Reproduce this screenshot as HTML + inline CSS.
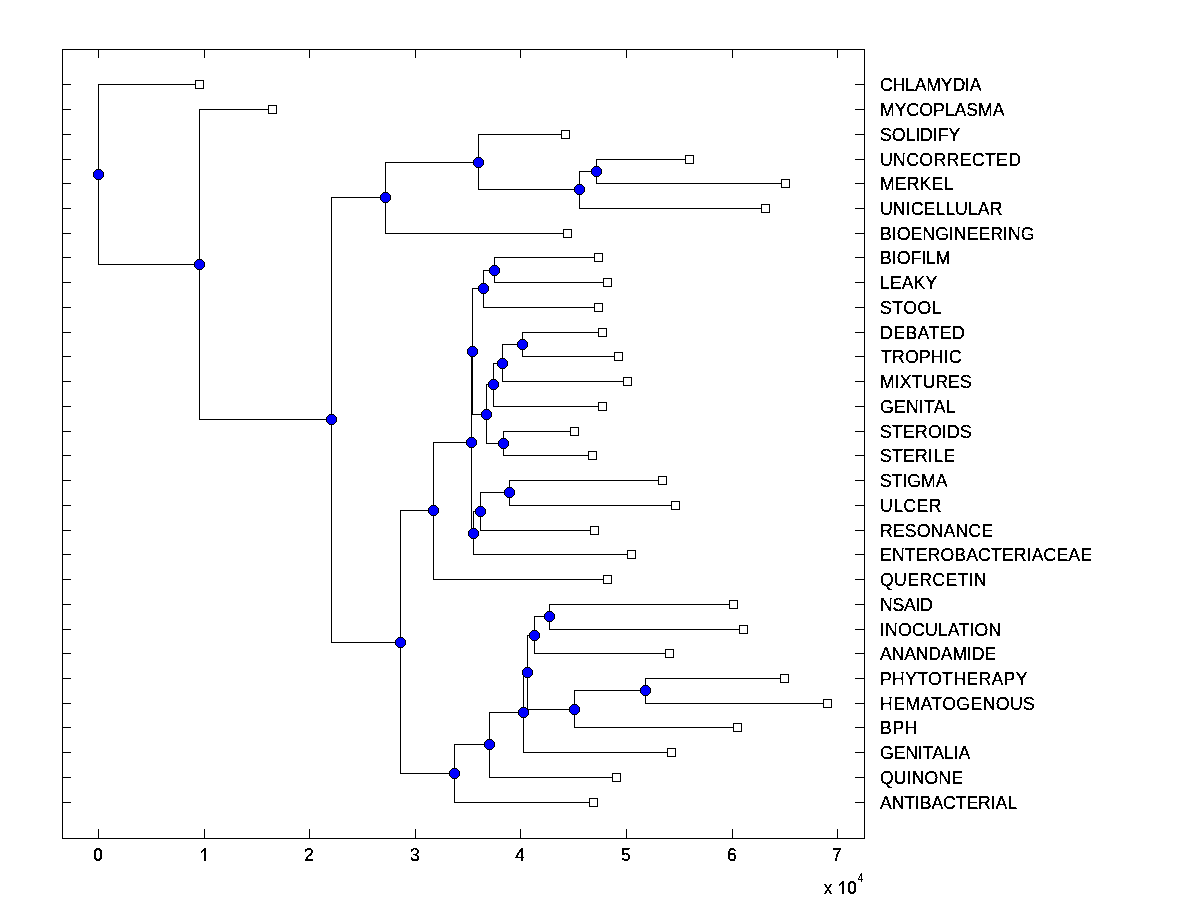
<!DOCTYPE html>
<html><head><meta charset="utf-8"><style>
html,body{margin:0;padding:0;background:#fff;}
svg{display:block;}
text{stroke:#000;stroke-width:0.25px;font-family:"Liberation Sans",sans-serif;font-size:17.7px;fill:#000;}
</style></head><body>
<svg width="1200" height="900" viewBox="0 0 1200 900">
<rect x="0" y="0" width="1200" height="900" fill="#fff"/>
<rect x="62.5" y="49.5" width="802" height="789" fill="none" stroke="#000" stroke-width="1" shape-rendering="crispEdges"/>
<path d="M98.5 838V829M98.5 50V58M204.5 838V829M204.5 50V58M309.5 838V829M309.5 50V58M415.5 838V829M415.5 50V58M520.5 838V829M520.5 50V58M626.5 838V829M626.5 50V58M732.5 838V829M732.5 50V58M837.5 838V829M837.5 50V58M63 84.5H71M864 84.5H855M63 109.5H71M864 109.5H855M63 134.5H71M864 134.5H855M63 159.5H71M864 159.5H855M63 183.5H71M864 183.5H855M63 208.5H71M864 208.5H855M63 233.5H71M864 233.5H855M63 257.5H71M864 257.5H855M63 282.5H71M864 282.5H855M63 307.5H71M864 307.5H855M63 332.5H71M864 332.5H855M63 356.5H71M864 356.5H855M63 381.5H71M864 381.5H855M63 406.5H71M864 406.5H855M63 431.5H71M864 431.5H855M63 455.5H71M864 455.5H855M63 480.5H71M864 480.5H855M63 505.5H71M864 505.5H855M63 530.5H71M864 530.5H855M63 554.5H71M864 554.5H855M63 579.5H71M864 579.5H855M63 604.5H71M864 604.5H855M63 629.5H71M864 629.5H855M63 653.5H71M864 653.5H855M63 678.5H71M864 678.5H855M63 703.5H71M864 703.5H855M63 727.5H71M864 727.5H855M63 752.5H71M864 752.5H855M63 777.5H71M864 777.5H855M63 802.5H71M864 802.5H855" stroke="#000" stroke-width="1" fill="none" shape-rendering="crispEdges"/>
<path d="M98.5 84.5V264.5M98.5 84.5H199.5M98.5 264.5H199.5M199.5 109.5V419.5M199.5 109.5H272.5M199.5 419.5H331.5M331.5 197.5V642.5M331.5 197.5H385.5M331.5 642.5H400.5M385.5 162.5V233.5M385.5 162.5H478.5M385.5 233.5H567.5M478.5 134.5V189.5M478.5 134.5H565.5M478.5 189.5H579.5M579.5 171.5V208.5M579.5 171.5H596.5M579.5 208.5H765.5M596.5 159.5V183.5M596.5 159.5H689.5M596.5 183.5H785.5M400.5 510.5V773.5M400.5 510.5H433.5M400.5 773.5H454.5M433.5 442.5V579.5M433.5 442.5H471.5M433.5 579.5H607.5M471.5 351.5V533.5M471.5 351.5H472.5M471.5 533.5H473.5M472.5 288.5V414.5M472.5 288.5H483.5M472.5 414.5H486.5M483.5 270.5V307.5M483.5 270.5H494.5M483.5 307.5H598.5M494.5 257.5V282.5M494.5 257.5H598.5M494.5 282.5H607.5M486.5 384.5V443.5M486.5 384.5H493.5M486.5 443.5H503.5M493.5 363.5V406.5M493.5 363.5H502.5M493.5 406.5H602.5M502.5 344.5V381.5M502.5 344.5H522.5M502.5 381.5H627.5M522.5 332.5V356.5M522.5 332.5H602.5M522.5 356.5H618.5M503.5 431.5V455.5M503.5 431.5H574.5M503.5 455.5H592.5M473.5 511.5V554.5M473.5 511.5H480.5M473.5 554.5H631.5M480.5 492.5V530.5M480.5 492.5H509.5M480.5 530.5H594.5M509.5 480.5V505.5M509.5 480.5H662.5M509.5 505.5H675.5M454.5 744.5V802.5M454.5 744.5H489.5M454.5 802.5H593.5M489.5 712.5V777.5M489.5 712.5H523.5M489.5 777.5H616.5M523.5 672.5V752.5M523.5 672.5H527.5M523.5 752.5H671.5M527.5 635.5V709.5M527.5 635.5H534.5M527.5 709.5H574.5M534.5 616.5V653.5M534.5 616.5H549.5M534.5 653.5H669.5M549.5 604.5V629.5M549.5 604.5H733.5M549.5 629.5H743.5M574.5 690.5V727.5M574.5 690.5H645.5M574.5 727.5H737.5M645.5 678.5V703.5M645.5 678.5H784.5M645.5 703.5H827.5" stroke="#000" stroke-width="1" fill="none" stroke-linecap="square" shape-rendering="crispEdges"/>
<defs><g id="mk" shape-rendering="crispEdges"><path fill="#000" d="M-2 -5H3V-4H4V-3H5V-2H6V3H5V4H4V5H3V6H-2V5H-3V4H-4V3H-5V-2H-4V-3H-3V-4H-2Z"/><path fill="#0000ff" d="M-2 -4H3V-3H4V-2H5V3H4V4H3V5H-2V4H-3V3H-4V-2H-3V-3H-2Z"/></g></defs>
<g><use href="#mk" x="98" y="174"/><use href="#mk" x="199" y="264"/><use href="#mk" x="331" y="419"/><use href="#mk" x="385" y="197"/><use href="#mk" x="478" y="162"/><use href="#mk" x="579" y="189"/><use href="#mk" x="596" y="171"/><use href="#mk" x="400" y="642"/><use href="#mk" x="433" y="510"/><use href="#mk" x="471" y="442"/><use href="#mk" x="472" y="351"/><use href="#mk" x="483" y="288"/><use href="#mk" x="494" y="270"/><use href="#mk" x="486" y="414"/><use href="#mk" x="493" y="384"/><use href="#mk" x="502" y="363"/><use href="#mk" x="522" y="344"/><use href="#mk" x="503" y="443"/><use href="#mk" x="473" y="533"/><use href="#mk" x="480" y="511"/><use href="#mk" x="509" y="492"/><use href="#mk" x="454" y="773"/><use href="#mk" x="489" y="744"/><use href="#mk" x="523" y="712"/><use href="#mk" x="527" y="672"/><use href="#mk" x="534" y="635"/><use href="#mk" x="549" y="616"/><use href="#mk" x="574" y="709"/><use href="#mk" x="645" y="690"/></g>
<g fill="#fff" stroke="#000" stroke-width="1" shape-rendering="crispEdges"><rect x="195.5" y="80.5" width="8" height="8"/><rect x="268.5" y="105.5" width="8" height="8"/><rect x="561.5" y="130.5" width="8" height="8"/><rect x="685.5" y="155.5" width="8" height="8"/><rect x="781.5" y="179.5" width="8" height="8"/><rect x="761.5" y="204.5" width="8" height="8"/><rect x="563.5" y="229.5" width="8" height="8"/><rect x="594.5" y="253.5" width="8" height="8"/><rect x="603.5" y="278.5" width="8" height="8"/><rect x="594.5" y="303.5" width="8" height="8"/><rect x="598.5" y="328.5" width="8" height="8"/><rect x="614.5" y="352.5" width="8" height="8"/><rect x="623.5" y="377.5" width="8" height="8"/><rect x="598.5" y="402.5" width="8" height="8"/><rect x="570.5" y="427.5" width="8" height="8"/><rect x="588.5" y="451.5" width="8" height="8"/><rect x="658.5" y="476.5" width="8" height="8"/><rect x="671.5" y="501.5" width="8" height="8"/><rect x="590.5" y="526.5" width="8" height="8"/><rect x="627.5" y="550.5" width="8" height="8"/><rect x="603.5" y="575.5" width="8" height="8"/><rect x="729.5" y="600.5" width="8" height="8"/><rect x="739.5" y="625.5" width="8" height="8"/><rect x="665.5" y="649.5" width="8" height="8"/><rect x="780.5" y="674.5" width="8" height="8"/><rect x="823.5" y="699.5" width="8" height="8"/><rect x="733.5" y="723.5" width="8" height="8"/><rect x="667.5" y="748.5" width="8" height="8"/><rect x="612.5" y="773.5" width="8" height="8"/><rect x="589.5" y="798.5" width="8" height="8"/></g>
<filter id="crisp" x="-5%" y="-20%" width="110%" height="140%"><feComponentTransfer><feFuncA type="discrete" tableValues="0 1"/></feComponentTransfer></filter>
<g filter="url(#crisp)">
<g><text x="880" y="91" textLength="101.47">CHLAMYDIA</text><text x="880" y="116" textLength="124.59">MYCOPLASMA</text><text x="880" y="141" textLength="80.27">SOLIDIFY</text><text x="880" y="166" textLength="141.02">UNCORRECTED</text><text x="880" y="190" textLength="73.27">MERKEL</text><text x="880" y="215" textLength="122.49">UNICELLULAR</text><text x="880" y="240" textLength="154.59">BIOENGINEERING</text><text x="880" y="264" textLength="70.58">BIOFILM</text><text x="880" y="289" textLength="57.29">LEAKY</text><text x="880" y="314" textLength="61.7">STOOL</text><text x="880" y="339" textLength="84.69">DEBATED</text><text x="881" y="363" textLength="80.56">TROPHIC</text><text x="880" y="388" textLength="91.78">MIXTURES</text><text x="880" y="413" textLength="75.69">GENITAL</text><text x="880" y="438" textLength="91.78">STEROIDS</text><text x="880" y="462" textLength="75.03">STERILE</text><text x="880" y="487" textLength="67.46">STIGMA</text><text x="880" y="512" textLength="61.46">ULCER</text><text x="880" y="537" textLength="113.03">RESONANCE</text><text x="880" y="561" textLength="212.05">ENTEROBACTERIACEAE</text><text x="880" y="586" textLength="106.58">QUERCETIN</text><text x="880" y="611" textLength="52.78">NSAID</text><text x="880" y="636" textLength="121.25">INOCULATION</text><text x="880" y="660" textLength="116.02">ANANDAMIDE</text><text x="880" y="685" textLength="147.46">PHYTOTHERAPY</text><text x="880" y="710" textLength="154.92">HEMATOGENOUS</text><text x="880" y="734" textLength="37.58">BPH</text><text x="880" y="759" textLength="90.26">GENITALIA</text><text x="880" y="784" textLength="83.02">QUINONE</text><text x="880" y="809" textLength="137.03">ANTIBACTERIAL</text></g>
<g><text x="309" y="861" text-anchor="middle" style="stroke-width:0.25px">2</text><text x="415" y="861" text-anchor="middle" style="stroke-width:0.25px">3</text><text x="520" y="861" text-anchor="middle" style="stroke-width:0.25px">4</text><text x="626" y="861" text-anchor="middle" style="stroke-width:0.25px">5</text><text x="732" y="861" text-anchor="middle" style="stroke-width:0.25px">6</text><text x="837" y="861" text-anchor="middle" style="stroke-width:0.25px">7</text></g>
</g>
<path d="M96 848h4v1h-4zM95 849h6v1h-6zM94 850h3v1h-3zM99 850h3v1h-3zM94 851h2v1h-2zM100 851h2v1h-2zM94 852h2v1h-2zM100 852h2v1h-2zM94 853h2v1h-2zM100 853h2v1h-2zM94 854h2v1h-2zM100 854h2v1h-2zM94 855h2v1h-2zM100 855h2v1h-2zM94 856h2v1h-2zM100 856h2v1h-2zM94 857h2v1h-2zM100 857h2v1h-2zM94 858h3v1h-3zM99 858h3v1h-3zM95 859h6v1h-6zM96 860h4v1h-4zM204 848h2v1h-2zM203 849h3v1h-3zM202 850h4v1h-4zM201 851h2v1h-2zM204 851h2v1h-2zM201 852h1v1h-1zM204 852h2v1h-2zM204 853h2v1h-2zM204 854h2v1h-2zM204 855h2v1h-2zM204 856h2v1h-2zM204 857h2v1h-2zM204 858h2v1h-2zM204 859h2v1h-2zM204 860h2v1h-2zM824 884h2v1h-2zM830 884h2v1h-2zM825 885h2v1h-2zM829 885h2v1h-2zM825 886h2v1h-2zM829 886h2v1h-2zM826 887h4v1h-4zM827 888h2v1h-2zM827 889h2v1h-2zM826 890h4v1h-4zM825 891h2v1h-2zM829 891h2v1h-2zM825 892h2v1h-2zM829 892h2v1h-2zM824 893h2v1h-2zM830 893h2v1h-2zM842 881h2v1h-2zM841 882h3v1h-3zM840 883h4v1h-4zM839 884h2v1h-2zM842 884h2v1h-2zM839 885h1v1h-1zM842 885h2v1h-2zM842 886h2v1h-2zM842 887h2v1h-2zM842 888h2v1h-2zM842 889h2v1h-2zM842 890h2v1h-2zM842 891h2v1h-2zM842 892h2v1h-2zM842 893h2v1h-2zM850 881h4v1h-4zM849 882h6v1h-6zM848 883h3v1h-3zM853 883h3v1h-3zM848 884h2v1h-2zM854 884h2v1h-2zM848 885h2v1h-2zM854 885h2v1h-2zM848 886h2v1h-2zM854 886h2v1h-2zM848 887h2v1h-2zM854 887h2v1h-2zM848 888h2v1h-2zM854 888h2v1h-2zM848 889h2v1h-2zM854 889h2v1h-2zM848 890h2v1h-2zM854 890h2v1h-2zM848 891h3v1h-3zM853 891h3v1h-3zM849 892h6v1h-6zM850 893h4v1h-4zM861 873h1v1h-1zM860 874h2v1h-2zM860 875h2v1h-2zM859 876h1v1h-1zM861 876h1v1h-1zM859 877h1v1h-1zM861 877h1v1h-1zM858 878h1v1h-1zM861 878h1v1h-1zM858 879h5v1h-5zM861 880h1v1h-1zM861 881h1v1h-1z" fill="#000" shape-rendering="crispEdges"/>
</svg>
</body></html>
